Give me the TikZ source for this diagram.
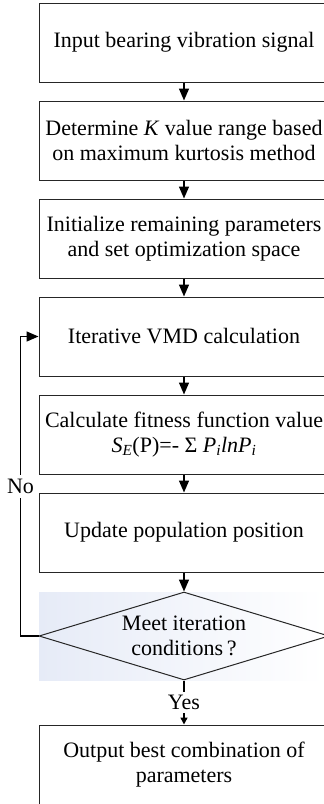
\documentclass[tikz,border=0pt]{standalone}
\usepackage{fontspec}
\setmainfont{Liberation Serif}
\usetikzlibrary{shapes.geometric, arrows.meta, positioning}
\definecolor{shadeblue}{RGB}{230,235,247}
\tikzstyle{arrow} = [line width=1.4pt,-{Triangle[length=12pt,width=10pt]}]
\tikzstyle{small arrow} = [line width=1.4pt,-{Triangle[length=7pt,width=7pt]}]
\tikzstyle{block} = [rectangle, draw=black!85, line width=1pt, minimum width=290pt, minimum height=79pt, align=center]
\tikzstyle{decision} = [diamond, draw=black!85, line width=1pt, aspect=3.3, inner sep=0pt, minimum width=290pt, minimum height=88pt, align=center]

\begin{document}
\begin{tikzpicture}[x=1pt, y=1pt, node distance=98pt, font=\fontsize{22}{25}\selectfont]
\useasboundingbox (0,0) rectangle (324,-804);
\shade[left color=shadeblue, right color=white] (39,-592) rectangle (324,-680);
\node[block] (input) at (184,-42.5) {Input bearing vibration signal};
\node[block] (krange) [below of=input] {Determine \textit{K} value range based\\on maximum kurtosis method};
\node[block] (init) [below of=krange] {Initialize remaining parameters\\and set optimization space};
\node[block] (vmd) [below of=init] {Iterative VMD calculation};
\node[block] (fit) [below of=vmd] {Calculate fitness function value\\\textit{S}\textsubscript{\textit{E}}(P)=- Σ \textit{P}\textsubscript{\textit{i}}\textit{ln}\textit{P}\textsubscript{\textit{i}}};
\node[block] (update) [below of=fit] {Update population position};
\node[decision] (cond) [below of=update, node distance=103.5pt] {Meet iteration\\conditions\,?};
\node[block] (output) [below of=cond, node distance=128.5pt] {Output best combination of\\parameters};
\coordinate[left=18pt of cond.west] (back);
\path[arrow]
    (input) edge (krange)
    (krange) edge (init)
    (init) edge (vmd)
    (vmd) edge (fit)
    (fit) edge (update)
    (update) edge (cond);
\draw[small arrow] (cond) -- node[fill=white, inner sep=3pt] {Yes} (output);
\draw[arrow] (cond.west) -- (back) |- node[pos=0.25, fill=white, inner sep=4pt] {No} (vmd.west);
\end{tikzpicture}
\end{document}
